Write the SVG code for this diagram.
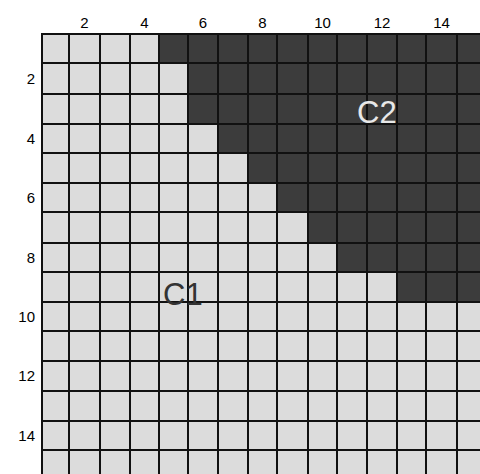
<svg xmlns="http://www.w3.org/2000/svg" width="480" height="474" viewBox="0 0 480 474">
  <style>
    .ax { font-family: "Liberation Sans", Arial, sans-serif; font-size: 15px; fill: #000; }
    .top { text-anchor: middle; }
    .left { text-anchor: end; }
    .grid line { stroke: #111; stroke-width: 2; }
    .lbl { font-family: "Liberation Sans", Arial, sans-serif; font-size: 31px; }
  </style>
  <rect x="0" y="0" width="480" height="474" fill="#ffffff"/>
  <g id="region-C1">
    <rect x="42" y="34" width="438" height="440" fill="#dcdcdc"/>
  </g>
  <g id="region-C2">
    <polygon fill="#3c3c3c" points="159,34 480,34 480,302 397,302 397,272 337,272 337,243 308,243 308,212 277,212 277,183 248,183 248,153 218,153 218,124 188,124 188,63 159,63"/>
  </g>
  <g id="grid" class="grid">
    <line x1="42" y1="33" x2="42" y2="474"/>
    <line x1="69" y1="33" x2="69" y2="474"/>
    <line x1="100" y1="33" x2="100" y2="474"/>
    <line x1="130" y1="33" x2="130" y2="474"/>
    <line x1="159" y1="33" x2="159" y2="474"/>
    <line x1="188" y1="33" x2="188" y2="474"/>
    <line x1="218" y1="33" x2="218" y2="474"/>
    <line x1="248" y1="33" x2="248" y2="474"/>
    <line x1="277" y1="33" x2="277" y2="474"/>
    <line x1="308" y1="33" x2="308" y2="474"/>
    <line x1="337" y1="33" x2="337" y2="474"/>
    <line x1="367" y1="33" x2="367" y2="474"/>
    <line x1="397" y1="33" x2="397" y2="474"/>
    <line x1="426" y1="33" x2="426" y2="474"/>
    <line x1="457" y1="33" x2="457" y2="474"/>
    <line x1="41" y1="34" x2="480" y2="34"/>
    <line x1="41" y1="63" x2="480" y2="63"/>
    <line x1="41" y1="94" x2="480" y2="94"/>
    <line x1="41" y1="124" x2="480" y2="124"/>
    <line x1="41" y1="153" x2="480" y2="153"/>
    <line x1="41" y1="183" x2="480" y2="183"/>
    <line x1="41" y1="212" x2="480" y2="212"/>
    <line x1="41" y1="243" x2="480" y2="243"/>
    <line x1="41" y1="272" x2="480" y2="272"/>
    <line x1="41" y1="302" x2="480" y2="302"/>
    <line x1="41" y1="331" x2="480" y2="331"/>
    <line x1="41" y1="361" x2="480" y2="361"/>
    <line x1="41" y1="391" x2="480" y2="391"/>
    <line x1="41" y1="421" x2="480" y2="421"/>
    <line x1="41" y1="450" x2="480" y2="450"/>
  </g>
  <g id="axis-top" class="ax top">
    <text x="84.5" y="28">2</text>
    <text x="144.5" y="28">4</text>
    <text x="203" y="28">6</text>
    <text x="262.5" y="28">8</text>
    <text x="322.5" y="28">10</text>
    <text x="382" y="28">12</text>
    <text x="441.5" y="28">14</text>
  </g>
  <g id="axis-left" class="ax left">
    <text x="35" y="84">2</text>
    <text x="35" y="144">4</text>
    <text x="35" y="203">6</text>
    <text x="35" y="263">8</text>
    <text x="35" y="322">10</text>
    <text x="35" y="381">12</text>
    <text x="35" y="441">14</text>
  </g>
  <g id="label-C1">
    <text class="lbl" x="163" y="305" fill="#333333">C1</text>
  </g>
  <g id="label-C2">
    <text class="lbl" x="357" y="123" fill="#e8e8e8">C2</text>
  </g>
</svg>
